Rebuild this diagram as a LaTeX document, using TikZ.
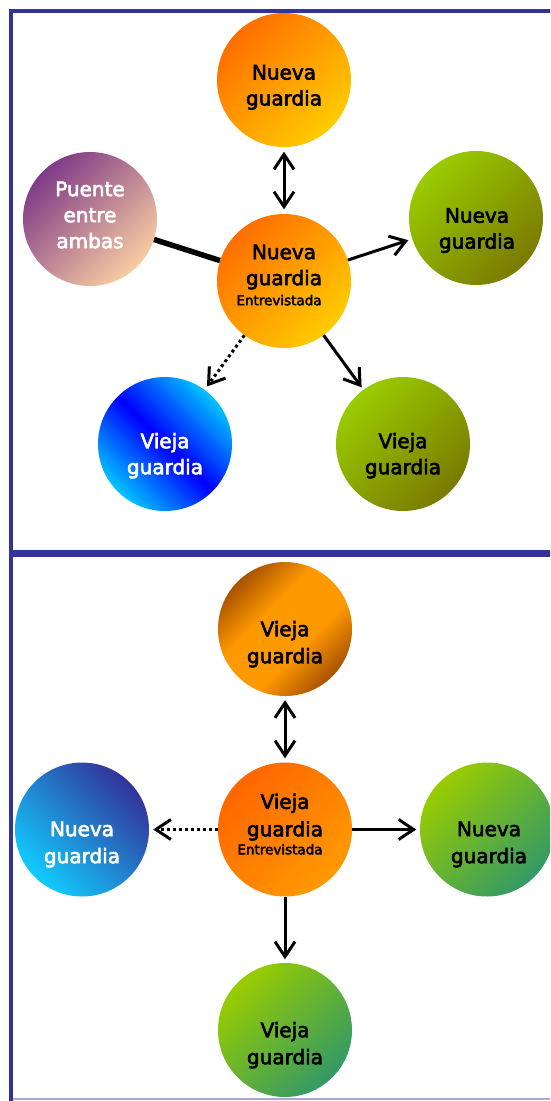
\documentclass[tikz,border=0pt]{standalone}
\usepackage{fontspec}
\setmainfont{DejaVu Sans}
\newfontfamily\ballfont{DejaVu Sans}[FakeBold=3]
\usetikzlibrary{arrows.meta}

% panel frame
\definecolor{frameblue}{HTML}{333399}
\definecolor{framelight}{HTML}{A8A8D4}
% ball gradients
\definecolor{orA}{HTML}{FF6E00}
\definecolor{orB}{HTML}{FFCC00}
\definecolor{puA}{HTML}{7F3A87}
\definecolor{puB}{HTML}{F9CDA2}
\definecolor{olA}{HTML}{99CC00}
\definecolor{olB}{HTML}{7A7A00}
\definecolor{cyA}{HTML}{00C4FF}
\definecolor{blB}{HTML}{0000FF}
\definecolor{brA}{HTML}{A85200}
\definecolor{brB}{HTML}{FF9900}
\definecolor{ceA}{HTML}{FF6600}
\definecolor{ceB}{HTML}{FF9A00}
\definecolor{nvA}{HTML}{333399}
\definecolor{nvB}{HTML}{11CCFF}
\definecolor{grA}{HTML}{99CC00}
\definecolor{grB}{HTML}{339966}

% brown rims with a broad orange band between them
\pgfdeclareverticalshading{amberband}{100bp}{%
  color(0bp)=(brA); color(25bp)=(brA); color(41bp)=(brB);
  color(59bp)=(brB); color(75bp)=(brA); color(100bp)=(brA)}

\tikzset{
  x=1pt, y=-1pt,
  >={Straight Barb[length=15pt,width=20pt]},
  frame/.style={draw=frameblue, line width=4pt},
  ball/.style={circle, minimum size=134pt, inner sep=0pt, draw=none},
  sunball/.style={ball, top color=orA, bottom color=orB, shading angle=45},
  plumball/.style={ball, top color=puA, bottom color=puB, shading angle=45},
  oliveball/.style={ball, top color=olA, bottom color=olB, shading angle=45},
  blueball/.style={ball, top color=cyA, bottom color=cyA, middle color=blB, shading angle=-45},
  amberball/.style={ball, shade, shading=amberband, shading angle=45},
  flameball/.style={ball, top color=ceA, bottom color=ceB, shading angle=45},
  navyball/.style={ball, top color=nvA, bottom color=nvB, shading angle=-45},
  leafball/.style={ball, top color=grA, bottom color=grB, shading angle=45},
  lbl/.style={anchor=north, inner sep=0pt, align=center, text=black,
              font=\ballfont\fontsize{20pt}{26pt}\selectfont},
  wlbl/.style={lbl, text=white},
  link/.style={draw=black, line width=3pt},
  dotlink/.style={link, dash pattern=on 3pt off 3pt},
  bar/.style={draw=black, line width=5.5pt},
}
\newcommand{\smalltag}[1]{\hspace*{-10pt}{\fontsize{13.5pt}{15pt}\selectfont #1}}

\begin{document}
\begin{tikzpicture}
\useasboundingbox (0,0) rectangle (550,1101);
\clip (0,0) rectangle (550,1101);

% two framed panels
\draw[frame] (11,11) rectangle (620,552);
\draw[frame] (11,554.5) rectangle (620,1104);
\draw[framelight, line width=1.5pt] (13,1099) -- (560,1099);

% ---- upper panel ----
\node[sunball]   (uTop)    at (284,80)  {};
\node[plumball]  (uBridge) at (90,219)  {};
\node[sunball]   (uMid)    at (284,281) {};
\node[oliveball] (uRight)  at (476,218) {};
\node[blueball]  (uLeftLo) at (165,444) {};
\node[oliveball] (uRightLo) at (403,444) {};

\node[lbl]  (uTopT)     at (284,64.7)  {Nueva\\guardia};
\node[wlbl] (uBridgeT)  at (90,181.4)  {Puente\\entre\\ambas};
\node[lbl]  (uMidT)     at (284,244.4) {Nueva\\guardia\\[-6pt]\smalltag{Entrevistada}};
\node[lbl]  (uRightT)   at (477,207.9) {Nueva\\guardia};
\node[wlbl] (uLeftLoT)  at (165,432.8) {Vieja\\guardia};
\node[lbl]  (uRightLoT) at (403,432.8) {Vieja\\guardia};

\draw[link, <->, shorten <=4.5pt, shorten >=4.5pt] (uTop) -- (uMid);
\draw[bar] (uBridge) -- (uMid);
\draw[link, ->, shorten >=4pt] (uMid) -- (uRight);
\draw[link, ->, shorten >=3pt] (uMid) -- (uRightLo);
\draw[dotlink, ->, shorten >=4pt] (uMid) -- (uLeftLo);

% ---- lower panel ----
\node[amberball] (lTop)   at (285,629)  {};
\node[flameball] (lMid)   at (285,829.5) {};
\node[navyball]  (lLeft)  at (82,829.5) {};
\node[leafball]  (lRight) at (487,829.5) {};
\node[leafball]  (lBot)   at (285,1030) {};

\node[lbl]  (lTopT)   at (285,620.8) {Vieja\\[1pt]guardia};
\node[lbl]  (lMidT)   at (285,793.4) {Vieja\\[1.5pt]guardia\\[-8pt]\smalltag{Entrevistada}};
\node[wlbl] (lLeftT)  at (82,821.4)  {Nueva\\[1pt]guardia};
\node[lbl]  (lRightT) at (489,821.4) {Nueva\\[1pt]guardia};
\node[lbl]  (lBotT)   at (285,1021.8) {Vieja\\[1pt]guardia};

\draw[link, <->, shorten <=4pt, shorten >=4pt] (lTop) -- (lMid);
\draw[dotlink, ->, shorten >=4pt] (lMid) -- (lLeft);
\draw[link, ->, shorten >=3.5pt] (lMid) -- (lRight);
\draw[link, ->, shorten >=3.5pt] (lMid) -- (lBot);
\end{tikzpicture}
\end{document}
